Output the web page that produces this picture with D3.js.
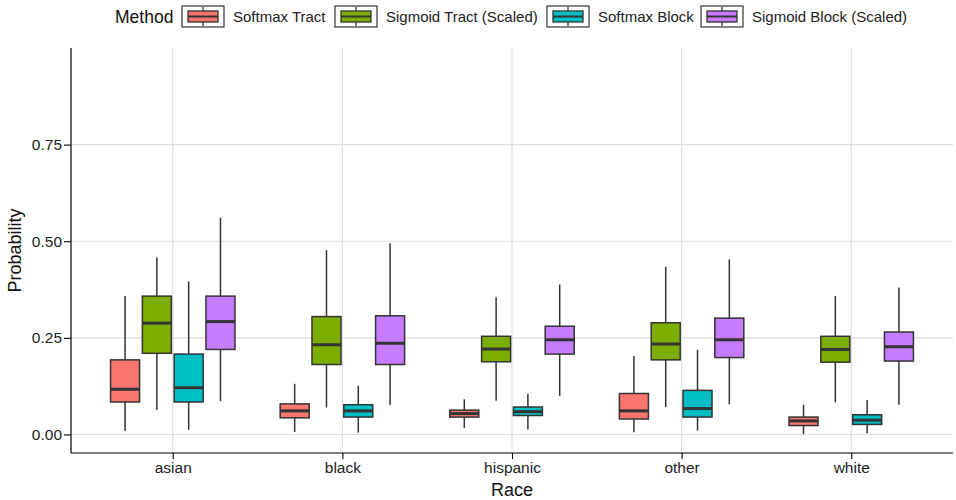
<!DOCTYPE html>
<html><head><meta charset="utf-8">
<script src="https://cdn.jsdelivr.net/npm/d3@7"></script>
<style>body{margin:0;background:#fff}svg{display:block;font-family:"Liberation Sans",Arial,Helvetica,sans-serif}</style>
</head><body><svg id="c" width="956" height="500"></svg>
<script>
const races = ["asian","black","hispanic","other","white"];
const methods = ["Softmax Tract","Sigmoid Tract (Scaled)","Softmax Block","Sigmoid Block (Scaled)"];
const colors = ["#F8766D","#7CAE00","#00BFC4","#C77CFF"];
const yTicks = [0, 0.25, 0.5, 0.75];
// [lowWhisker, q1, median, q3, highWhisker] per race, per method
const softmaxTract = [[0.009,0.084,0.117,0.193,0.358],[0.006,0.043,0.061,0.079,0.131],[0.017,0.045,0.054,0.063,0.091],[0.006,0.040,0.061,0.106,0.203],[0.001,0.023,0.035,0.045,0.077]];
const sigmoidTract = [[0.063,0.210,0.288,0.358,0.458],[0.070,0.181,0.232,0.305,0.477],[0.087,0.188,0.221,0.254,0.355],[0.071,0.193,0.234,0.289,0.434],[0.083,0.187,0.220,0.254,0.358]];
const softmaxBlock = [[0.012,0.084,0.121,0.208,0.396],[0.005,0.045,0.061,0.077,0.126],[0.013,0.049,0.059,0.071,0.105],[0.010,0.045,0.067,0.114,0.219],[0.003,0.026,0.037,0.051,0.089]];
const sigmoidBlock = [[0.086,0.220,0.292,0.358,0.561],[0.076,0.181,0.236,0.307,0.495],[0.100,0.208,0.245,0.280,0.388],[0.078,0.199,0.245,0.301,0.453],[0.077,0.190,0.227,0.265,0.380]];
const seriesVals = [softmaxTract, sigmoidTract, softmaxBlock, sigmoidBlock];

const svg = d3.select("#c");
const L = 71, R = 953, T = 48, B = 453;
const step = (R - L) / (races.length - 1 + 1.2);
const x = d3.scalePoint().domain(races).range([L + 0.6*step, R - 0.6*step]).padding(0);
const y = d3.scaleLinear().domain([-0.048, 1.0]).range([B, T]);
const dodge = d3.scaleBand().domain(methods).range([-0.375*step, 0.375*step]).padding(0);
const bw = 0.171*step;

// grid
const g = svg.append("g");
g.selectAll(".gy").data(yTicks).join("line").attr("x1",L).attr("x2",R)
  .attr("y1",d=>y(d)).attr("y2",d=>y(d)).attr("stroke","#dedede").attr("stroke-width",1.1);
g.selectAll(".gx").data(races).join("line").attr("y1",T).attr("y2",B)
  .attr("x1",d=>x(d)).attr("x2",d=>x(d)).attr("stroke","#dedede").attr("stroke-width",1.1);

// boxes
methods.forEach((m, mi) => {
  races.forEach((r, ri) => {
    const v = seriesVals[mi][ri];
    const cx = x(r) + dodge(m) + dodge.bandwidth()/2;
    const bg = svg.append("g");
    bg.append("line").attr("x1",cx).attr("x2",cx).attr("y1",y(v[4])).attr("y2",y(v[3])).attr("stroke","#333").attr("stroke-width",1.5);
    bg.append("line").attr("x1",cx).attr("x2",cx).attr("y1",y(v[1])).attr("y2",y(v[0])).attr("stroke","#333").attr("stroke-width",1.5);
    bg.append("rect").attr("x",cx-bw/2).attr("width",bw).attr("y",y(v[3])).attr("height",y(v[1])-y(v[3]))
      .attr("fill",colors[mi]).attr("stroke","#333").attr("stroke-width",1.5);
    bg.append("line").attr("x1",cx-bw/2).attr("x2",cx+bw/2).attr("y1",y(v[2])).attr("y2",y(v[2])).attr("stroke","#333").attr("stroke-width",3);
  });
});

// axes
const ya = svg.append("g").attr("transform",`translate(${L},0)`)
  .call(d3.axisLeft(y).tickValues(yTicks).tickFormat(d3.format(".2f")).tickSize(7).tickPadding(2));
ya.select(".domain").attr("d",`M0,${T}V${B}`).attr("stroke","#000").attr("stroke-width",1.2);
const xa = svg.append("g").attr("transform",`translate(0,${B})`)
  .call(d3.axisBottom(x).tickSize(6).tickPadding(3));
xa.select(".domain").attr("d",`M${L},0H${R}`).attr("stroke","#000").attr("stroke-width",1.2);
svg.selectAll(".tick line").attr("stroke","#000").attr("stroke-width",1.1);
svg.selectAll(".tick text").attr("font-size",15.5).attr("fill","#222").attr("font-family","Liberation Sans, Arial, sans-serif");

svg.append("text").attr("x",(L+R)/2).attr("y",496).attr("text-anchor","middle").attr("font-size",18).attr("fill","#111").text("Race");
svg.append("text").attr("transform",`translate(21,${(T+B)/2}) rotate(-90)`).attr("text-anchor","middle").attr("font-size",18).attr("fill","#111").text("Probability");

// legend
const lg = svg.append("g");
lg.append("text").attr("x",115).attr("y",23).attr("font-size",17.5).attr("fill","#111").text("Method");
const keyX = [182, 335, 547, 701];
methods.forEach((m, i) => {
  const kx = keyX[i], ky = 6, kw = 42, kh = 21;
  lg.append("rect").attr("x",kx).attr("y",ky).attr("width",kw).attr("height",kh).attr("fill","#fff").attr("stroke","#333").attr("stroke-width",1.2);
  lg.append("line").attr("x1",kx+kw/2).attr("x2",kx+kw/2).attr("y1",ky+1).attr("y2",ky+kh-1).attr("stroke","#333").attr("stroke-width",1.3);
  lg.append("rect").attr("x",kx+6).attr("y",ky+5).attr("width",kw-12).attr("height",kh-10).attr("fill",colors[i]).attr("stroke","#333").attr("stroke-width",1.3);
  lg.append("line").attr("x1",kx+6).attr("x2",kx+kw-6).attr("y1",ky+kh/2).attr("y2",ky+kh/2).attr("stroke","#333").attr("stroke-width",2);
  lg.append("text").attr("x",kx+kw+9).attr("y",22).attr("font-size",15).attr("fill","#222").text(m);
});
</script></body></html>
